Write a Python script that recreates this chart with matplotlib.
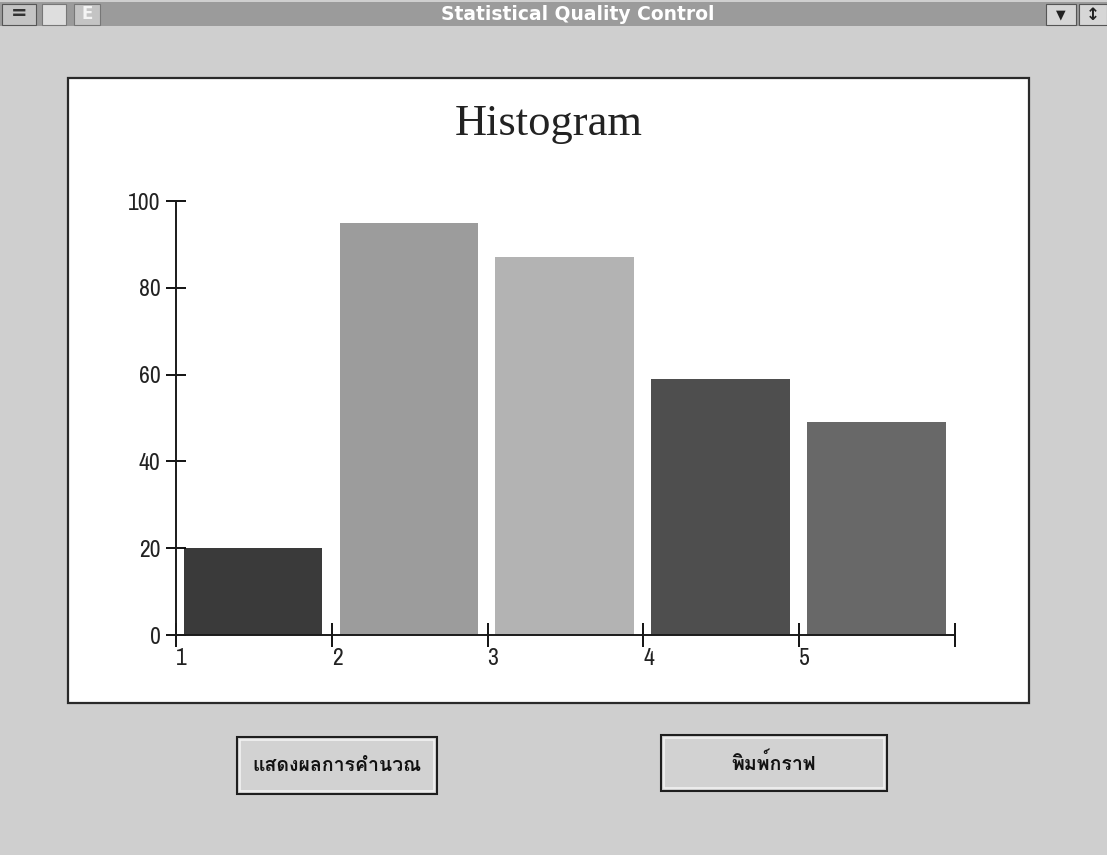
import matplotlib
matplotlib.use('Agg')
import matplotlib.pyplot as plt
from matplotlib import font_manager
from matplotlib.patches import Rectangle

# histogram classes and counts
bins = [1, 2, 3, 4, 5]
counts = [20, 95, 87, 59, 49]
bar_colors = ['#3a3a3a', '#9c9c9c', '#b3b3b3', '#4e4e4e', '#686868']
y_ticks = [0, 20, 40, 60, 80, 100]
x_ticks = [1, 2, 3, 4, 5, 6]
x_labels = ['1', '2', '3', '4', '5', '']
chart_title = 'Histogram'
window_title = 'Statistical Quality Control'
button_labels = ['แสดงผลการคำนวณ', 'พิมพ์กราฟ']

W, H = 1107, 855


def find_thai_font():
    # first installed font that has Thai glyphs
    try:
        from fontTools.ttLib import TTFont
    except ImportError:
        return None
    for f in font_manager.fontManager.ttflist:
        try:
            cmap = TTFont(f.fname, fontNumber=0, lazy=True).getBestCmap()
        except Exception:
            continue
        if cmap and 0x0E01 in cmap and 0x0E04 in cmap:
            return f.name
    return None


def find_narrow_font():
    for f in font_manager.fontManager.ttflist:
        if 'Narrow' in f.name or 'Condensed' in f.name:
            return f.name, 'normal'
    for f in font_manager.fontManager.ttflist:
        if f.name == 'DejaVu Sans' and f.stretch == 'condensed':
            return 'DejaVu Sans', 'condensed'
    return 'Liberation Sans', 'normal'


narrow, narrow_stretch = find_narrow_font()
thai = find_thai_font()
thai_family = [thai, 'DejaVu Sans'] if thai else ['DejaVu Sans']


def fx(px):
    return px / W


def fy(py):
    return 1 - py / H


def frect(x0, y0, x1, y1, zorder=-2, **kw):
    r = Rectangle((fx(x0), fy(y1)), (x1 - x0) / W, (y1 - y0) / H,
                  transform=fig.transFigure, zorder=zorder, **kw)
    fig.add_artist(r)
    return r


fig = plt.figure(figsize=(W / 100, H / 100), dpi=100, facecolor='#cfcfcf')

# window title bar
frect(0, 2, W, 26, facecolor='#9b9b9b', edgecolor='none')
frect(2, 4, 36, 25, facecolor='#c4c4c4', edgecolor='#555555', lw=0.8)
fig.text(fx(19), fy(14), '=', ha='center', va='center', fontsize=14,
         fontweight='bold', color='#333333')
frect(42, 4, 66, 25, facecolor='#dedede', edgecolor='#777777', lw=0.8)
frect(74, 4, 100, 25, facecolor='#c4c4c4', edgecolor='#777777', lw=0.8)
fig.text(fx(87), fy(14), 'E', ha='center', va='center', fontsize=12,
         color='#f4f4f4', fontweight='bold')
frect(1046, 4, 1076, 25, facecolor='#d6d6d6', edgecolor='#555555', lw=0.8)
fig.text(fx(1061), fy(15), '▼', ha='center', va='center', fontsize=9, color='#222222')
frect(1079, 4, W, 25, facecolor='#d6d6d6', edgecolor='#555555', lw=0.8)
fig.text(fx(1093), fy(15), '↕', ha='center', va='center', fontsize=12,
         color='#222222', fontweight='bold')
fig.text(fx(578), fy(14), window_title, ha='center', va='center', fontsize=13.5,
         fontweight='bold', color='white', family='DejaVu Sans')

# white chart panel
frect(68, 78, 1029, 703, facecolor='white', edgecolor='#2a2a2a', lw=1.6)
fig.text(fx(549), fy(124), chart_title, ha='center', va='center',
         fontsize=32, family='Liberation Serif', color='#222222')

# buttons
for (x0, y0, x1, y1), label in zip([(237, 737, 437, 794), (661, 735, 887, 791)],
                                   button_labels):
    frect(x0, y0, x1, y1, facecolor='#d2d2d2', edgecolor='#1e1e1e', lw=1.5)
    frect(x0 + 3, y0 + 3, x1 - 3, y1 - 3, facecolor='none',
          edgecolor='#f2f2f2', lw=1.2, zorder=-1)
    fig.text(fx((x0 + x1) / 2), fy((y0 + y1) / 2), label, ha='center', va='center',
             fontsize=14, fontweight='bold', color='#111111', family=thai_family)

# histogram axes
ax = fig.add_axes([fx(176), fy(635), (955 - 176) / W, (635 - 201) / H])
ax.set_zorder(5)
ax.patch.set_alpha(0)
ax.bar([b + 0.05 for b in bins], counts, width=0.89, align='edge',
       color=bar_colors, edgecolor='none')
ax.set_xlim(1, 6)
ax.set_ylim(0, 100)
for s in ['top', 'right']:
    ax.spines[s].set_visible(False)
for s in ['left', 'bottom']:
    ax.spines[s].set_linewidth(1.4)
    ax.spines[s].set_color('#1a1a1a')
ax.set_yticks(y_ticks)
ax.set_yticklabels([str(v) for v in y_ticks], family=narrow,
                   fontstretch=narrow_stretch, fontsize=17, color='#222222')
ax.set_xticks(x_ticks)
ax.set_xticklabels(x_labels, family=narrow, fontstretch=narrow_stretch,
                   fontsize=17, color='#222222', ha='left')
ax.tick_params(axis='y', direction='inout', length=14, width=1.3, pad=4)
ax.tick_params(axis='x', direction='inout', length=17, width=1.3, pad=1)

fig.savefig('out.png', dpi=100, facecolor=fig.get_facecolor())
